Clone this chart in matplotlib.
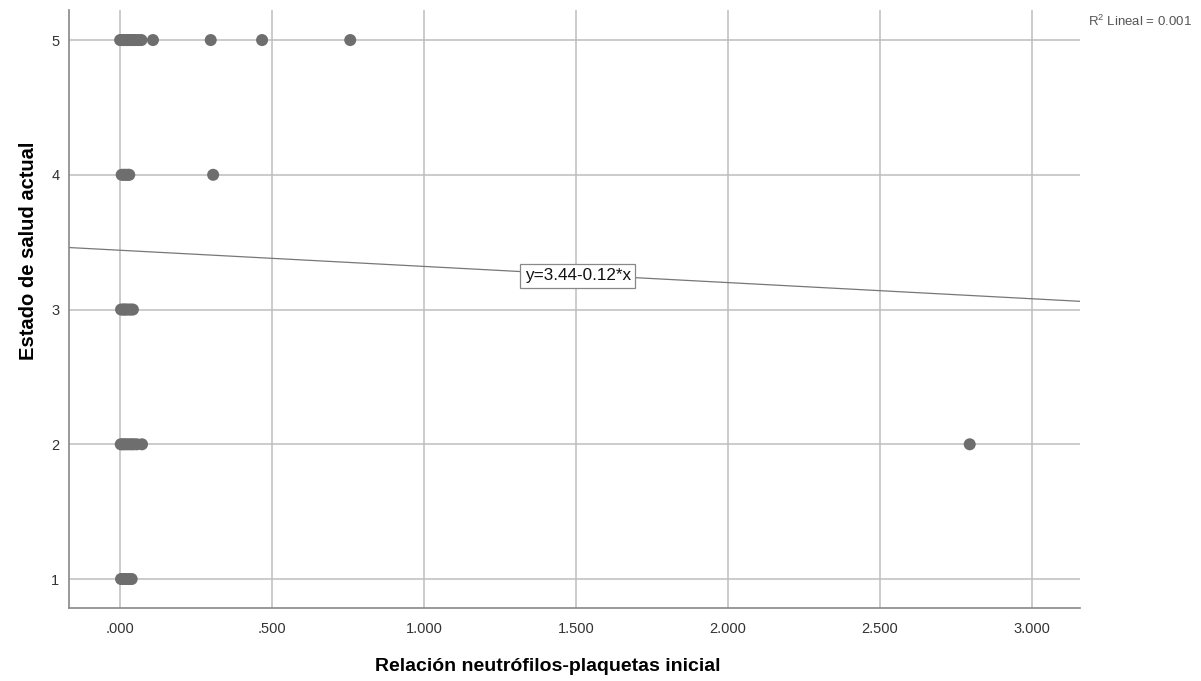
import matplotlib.pyplot as plt
import numpy as np


# points (relación N/P inicial, estado de salud)
x_5 = [0.000, 0.005, 0.010, 0.015, 0.020, 0.025, 0.030, 0.035, 0.040,
       0.045, 0.050, 0.060, 0.070, 0.108, 0.298, 0.467, 0.757]
x_4 = [0.005, 0.012, 0.018, 0.025, 0.030, 0.306]
x_3 = [0.003, 0.010, 0.015, 0.020, 0.028, 0.035, 0.042]
x_2 = [0.002, 0.008, 0.015, 0.022, 0.030, 0.038, 0.045, 0.055, 0.072, 2.795]
x_1 = [0.003, 0.010, 0.018, 0.028, 0.038]

groups = {5: x_5, 4: x_4, 3: x_3, 2: x_2, 1: x_1}

intercept = 3.44
slope = -0.12
r2_text = r"R$^{2}$ Lineal = 0.001"
fit_label = "y=3.44-0.12*x"

x_ticks = [0.0, 0.5, 1.0, 1.5, 2.0, 2.5, 3.0]
x_tick_labels = [".000", ".500", "1.000", "1.500", "2.000", "2.500", "3.000"]
y_ticks = [1, 2, 3, 4, 5]

plt.rcParams["font.family"] = ["Liberation Sans", "DejaVu Sans"]
plt.rcParams["mathtext.fontset"] = "custom"
plt.rcParams["mathtext.rm"] = "Liberation Sans"
plt.rcParams["mathtext.default"] = "regular"

fig = plt.figure(figsize=(12.01, 6.81), dpi=100)
ax = fig.add_axes([0.0575, 0.1072, 0.8418, 0.8781])

xlim = (-0.168, 3.158)
ax.set_xlim(*xlim)
ax.set_ylim(0.785, 5.223)

ax.grid(True, color="#bdbdbd", linewidth=1.1)
ax.set_axisbelow(True)

for yval, xs in groups.items():
    ax.scatter(
        xs,
        [yval] * len(xs),
        s=75,
        color="#6e6e6e",
        edgecolors="none",
        zorder=3,
    )

line_x = np.array(xlim)
ax.plot(
    line_x,
    intercept + slope * line_x,
    color="#777777",
    linewidth=0.9,
    zorder=2,
)

ax.text(
    1.505,
    3.25,
    fit_label,
    fontsize=12.3,
    ha="center",
    va="center",
    color="#111111",
    bbox=dict(boxstyle="square,pad=0.25", facecolor="white", edgecolor="#888888", linewidth=0.9),
    zorder=4,
)

ax.set_xticks(x_ticks)
ax.set_xticklabels(x_tick_labels)
ax.set_yticks(y_ticks)
ax.tick_params(labelsize=10.5, colors="#333333", length=0)
ax.tick_params(axis="x", pad=10)
ax.tick_params(axis="y", pad=7)

for side in ["top", "right"]:
    ax.spines[side].set_visible(False)
for side in ["left", "bottom"]:
    ax.spines[side].set_color("#888888")
    ax.spines[side].set_linewidth(1.2)

ax.set_xlabel(
    "Relación neutrófilos-plaquetas inicial",
    fontsize=14,
    fontweight="bold",
    va="center",
)
ax.xaxis.set_label_coords(0.473, -0.097)
ax.set_ylabel(
    "Estado de salud actual",
    fontsize=14.5,
    fontweight="bold",
    va="center",
)
ax.yaxis.set_label_coords(-0.0405, 0.597)

fig.text(0.9055, 0.968, r2_text, fontsize=9.5, color="#555555", ha="left", va="center")

fig.savefig("out.png", dpi=100)
